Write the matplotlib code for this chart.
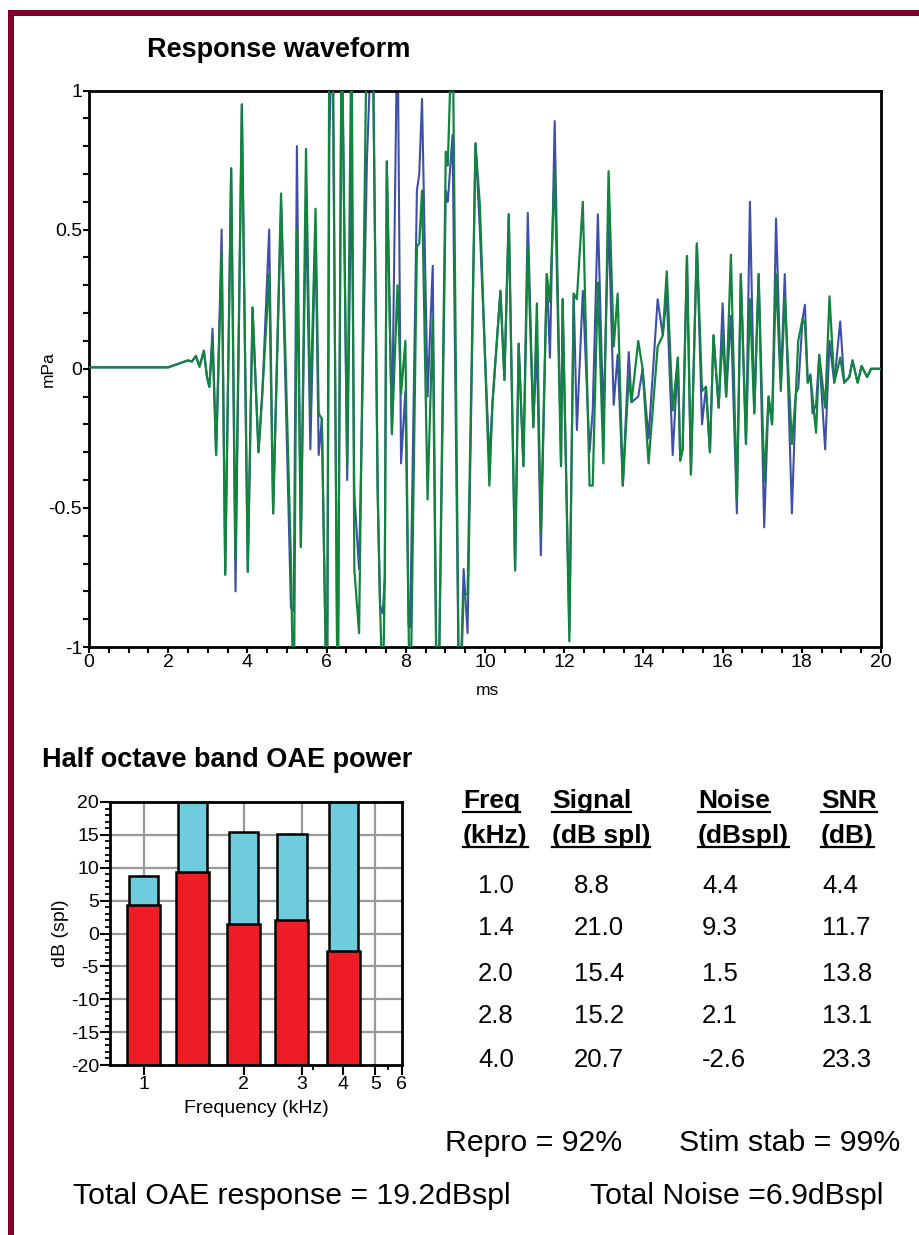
import matplotlib
matplotlib.use("Agg")
import matplotlib.pyplot as plt
from matplotlib.patches import Rectangle
from matplotlib.lines import Line2D
from matplotlib.ticker import MultipleLocator, FixedLocator, NullFormatter

plt.rcParams['font.family'] = ['Liberation Sans', 'DejaVu Sans']
plt.rcParams['axes.unicode_minus'] = False

# ---------------- data ----------------
t_ms = [0.00, 2.00, 2.30, 2.50, 2.60, 2.70, 2.79, 2.90, 2.98, 3.04,
        3.12, 3.21, 3.35, 3.44, 3.59, 3.70, 3.86, 4.01, 4.13, 4.28,
        4.38, 4.55, 4.65, 4.85, 5.10, 5.17, 5.25, 5.35, 5.48, 5.59,
        5.72, 5.80, 5.88, 6.01, 6.07, 6.15, 6.28, 6.38, 6.52, 6.63,
        6.70, 6.82, 6.88, 7.02, 7.16, 7.29, 7.35, 7.42, 7.47, 7.52,
        7.65, 7.79, 7.88, 7.99, 8.07, 8.11, 8.28, 8.34, 8.41, 8.55,
        8.68, 8.80, 9.01, 9.06, 9.18, 9.35, 9.46, 9.56, 9.76, 9.87,
        10.11, 10.19, 10.39, 10.49, 10.60, 10.76, 10.85, 10.97, 11.08, 11.22,
        11.31, 11.41, 11.56, 11.64, 11.76, 11.92, 11.96, 12.13, 12.24, 12.32,
        12.47, 12.64, 12.72, 12.85, 12.99, 13.12, 13.25, 13.35, 13.48, 13.63,
        13.70, 13.87, 13.98, 14.13, 14.36, 14.49, 14.59, 14.74, 14.87, 14.93,
        14.99, 15.10, 15.20, 15.35, 15.48, 15.58, 15.68, 15.77, 15.90, 16.00,
        16.09, 16.21, 16.36, 16.46, 16.59, 16.69, 16.80, 16.91, 17.05, 17.16,
        17.25, 17.35, 17.47, 17.57, 17.75, 17.85, 17.91, 18.02, 18.08, 18.15,
        18.22, 18.27, 18.36, 18.44, 18.59, 18.70, 18.82, 18.97, 19.07, 19.20,
        19.28, 19.41, 19.51, 19.65, 19.75, 20.00]

blue_mpa = [0.005, 0.005, 0.02, 0.03, 0.026, 0.046, 0.007, 0.065, -0.03, -0.065,
            0.144, -0.31, 0.50, -0.74, 0.72, -0.80, 0.95, -0.73, 0.22, -0.30,
            -0.08, 0.50, -0.52, 0.58, -0.86, -0.87, 0.80, -0.64, 0.60, -0.29,
            0.50, -0.31, -0.18, -1.3, 0.82, 1.3, -1.3, 1.3, -0.40, 0.78,
            -0.45, -0.72, -0.27, 0.76, 1.3, -0.44, -0.85, -0.88, -0.74, 0.745,
            -0.235, 1.3, -0.34, -0.08, -0.92, -0.93, 0.64, 0.70, 0.97, -0.10,
            0.37, -1.5, 0.64, 0.60, 0.84, -1.3, -0.72, -0.95, 0.81, 0.50,
            -0.33, -0.12, 0.28, -0.04, 0.555, -0.725, 0.09, -0.35, 0.56, -0.21,
            0.09, -0.67, 0.34, 0.04, 0.89, -0.35, 0.25, -0.94, 0.27, -0.22,
            0.28, -0.30, -0.15, 0.555, -0.20, 0.535, -0.13, 0.05, -0.42, 0.06,
            -0.12, -0.10, 0.0, -0.25, 0.25, 0.12, 0.27, -0.31, 0.04, -0.33,
            -0.29, 0.405, -0.38, 0.45, -0.20, -0.065, -0.30, 0.12, -0.14, 0.235,
            -0.10, 0.19, -0.52, 0.34, -0.27, 0.60, -0.16, 0.34, -0.57, -0.10,
            -0.20, 0.54, -0.05, 0.34, -0.52, -0.09, -0.07, 0.18, 0.23, -0.05,
            -0.02, -0.16, -0.13, 0.05, -0.29, 0.10, -0.05, 0.17, -0.05, -0.03,
            0.03, -0.05, 0.01, -0.03, 0.0, 0.0]

green_mpa = [0.005, 0.005, 0.02, 0.03, 0.026, 0.046, 0.007, 0.065, -0.03, -0.065,
             0.10, -0.31, 0.42, -0.74, 0.72, -0.68, 0.95, -0.73, 0.22, -0.30,
             -0.08, 0.34, -0.52, 0.63, -0.69, -1.3, 0.50, -0.64, 0.79, -0.16,
             0.575, -0.16, -0.18, -1.3, 1.3, 1.3, -1.3, 1.3, -0.35, 1.3,
             -0.72, -0.95, -0.27, 1.3, 1.3, -0.45, -0.85, -1.2, -0.74, 0.745,
             -0.235, 0.3, -0.09, 0.10, -0.92, -1.3, 0.44, 0.45, 0.64, -0.47,
             0.18, -1.5, 0.78, 0.73, 1.3, -1.3, -0.81, -0.81, 0.81, 0.59,
             -0.42, -0.12, 0.28, -0.04, 0.555, -0.725, 0.09, -0.35, 0.44, -0.21,
             0.235, -0.59, 0.34, 0.24, 0.71, -0.35, 0.25, -0.98, 0.27, 0.25,
             0.60, -0.42, -0.42, 0.31, -0.34, 0.71, 0.08, 0.27, -0.42, -0.03,
             -0.12, 0.10, 0.0, -0.34, 0.08, 0.12, 0.35, -0.15, 0.04, -0.33,
             -0.29, 0.405, -0.38, 0.45, -0.08, -0.065, -0.30, 0.12, -0.14, 0.12,
             -0.10, 0.41, -0.47, 0.34, -0.27, 0.25, -0.16, 0.34, -0.405, -0.10,
             -0.20, 0.34, -0.08, 0.255, -0.27, -0.09, 0.10, 0.18, 0.16, -0.05,
             -0.03, -0.10, -0.23, 0.05, -0.14, 0.26, -0.05, 0.04, -0.05, -0.03,
             0.03, -0.05, 0.01, -0.03, 0.0, 0.0]

band_khz = [1.0, 1.4, 2.0, 2.8, 4.0]
signal_db = [8.8, 21.0, 15.4, 15.2, 20.7]
noise_db = [4.4, 9.3, 1.5, 2.1, -2.6]
snr_db = [4.4, 11.7, 13.8, 13.1, 23.3]

repro_pct = 92
stim_stab_pct = 99
total_oae_db = 19.2
total_noise_db = 6.9

# ---------------- figure ----------------
W, H = 920, 1235
fig = plt.figure(figsize=(W / 100, H / 100), dpi=100)
fig.patch.set_facecolor('white')


def fx(x):
    return x / W


def fy(y):
    return 1 - y / H


maroon = '#83002B'
fig.patches.append(Rectangle((fx(8), 0), fx(6), fy(10), transform=fig.transFigure,
                             facecolor=maroon, edgecolor='none', zorder=0))
fig.patches.append(Rectangle((fx(8), fy(16)), 1 - fx(8), 6 / H, transform=fig.transFigure,
                             facecolor=maroon, edgecolor='none', zorder=0))

# ---------------- waveform ----------------
ax1 = fig.add_axes([fx(89), fy(647), fx(881) - fx(89), (647 - 90.5) / H])
ax1.plot(t_ms, blue_mpa, color='#3D4FA8', lw=1.5, zorder=2)
ax1.plot(t_ms, green_mpa, color='#12843F', lw=1.6, zorder=3)
ax1.set_xlim(0, 20)
ax1.set_ylim(-1, 1)
ax1.set_xticks(range(0, 21, 2))
ax1.xaxis.set_minor_locator(MultipleLocator(0.5))
ax1.set_yticks([-1, -0.5, 0, 0.5, 1])
ax1.set_yticklabels(['-1', '-0.5', '0', '0.5', '1'])
ax1.yaxis.set_minor_locator(MultipleLocator(0.1))
ax1.tick_params(axis='both', which='major', direction='out', length=4, width=1.5,
                labelsize=14, pad=1)
ax1.tick_params(axis='both', which='minor', direction='out', length=4, width=1.5)
for s in ax1.spines.values():
    s.set_linewidth(2)
ax1.set_xlabel('ms', fontsize=12.5)
ax1.set_ylabel('mPa', fontsize=12.5)
ax1.xaxis.set_label_coords((487 - 89) / 792, -(683 - 647) / 556.5)
ax1.yaxis.set_label_coords((56 - 89) / 792, 0.5)
fig.text(fx(147), fy(50), 'Response waveform', fontsize=19.5, fontweight='bold',
         ha='left', va='center')

# ---------------- band power bar chart ----------------
ax2 = fig.add_axes([fx(110), fy(1065), fx(402) - fx(110), (1065 - 802) / H])
ax2.set_xscale('log')
ax2.set_xlim(0.79, 6.02)
ax2.set_ylim(-20, 20)
for xv in [1, 2, 3, 4, 5]:
    ax2.axvline(xv, color='#999999', lw=1.6, zorder=0)
for yv in range(-15, 20, 5):
    ax2.axhline(yv, color='#999999', lw=1.6, zorder=0)

for f, s, n in zip(band_khz, signal_db, noise_db):
    ls, rs = f * 10 ** -0.044, f * 10 ** 0.044
    ax2.bar(ls, s + 20, width=rs - ls, bottom=-20, align='edge',
            color='#6ECCDC', edgecolor='black', lw=1.8, zorder=2)
    ln, rn = f * 10 ** -0.05, f * 10 ** 0.05
    ax2.bar(ln, n + 20, width=rn - ln, bottom=-20, align='edge',
            color='#EE1D25', edgecolor='black', lw=1.8, zorder=3)

ax2.xaxis.set_major_locator(FixedLocator([1, 2, 3, 4, 5, 6]))
ax2.set_xticklabels(['1', '2', '3', '4', '5', '6'])
ax2.xaxis.set_minor_locator(FixedLocator([3.25, 5.45]))
ax2.xaxis.set_minor_formatter(NullFormatter())
ax2.set_yticks(range(-20, 21, 5))
ax2.yaxis.set_minor_locator(MultipleLocator(1))
ax2.tick_params(axis='both', which='major', direction='out', length=7, width=1.5,
                labelsize=14, pad=1)
ax2.tick_params(axis='both', which='minor', direction='out', length=3.5, width=1.3)
for s in ax2.spines.values():
    s.set_linewidth(2)
    s.set_zorder(5)
ax2.set_xlabel('Frequency (kHz)', fontsize=14)
ax2.set_ylabel('dB (spl)', fontsize=14)
ax2.xaxis.set_label_coords((256 - 110) / 292, -(1100 - 1065) / 263)
ax2.yaxis.set_label_coords((69 - 110) / 292, 0.5)
fig.text(fx(42), fy(760), 'Half octave band OAE power', fontsize=19.5,
         fontweight='bold', ha='left', va='center')

# ---------------- table ----------------
headers = [(463, 'Freq', '(kHz)'), (552, 'Signal', '(dB spl)'),
           (698, 'Noise', '(dBspl)'), (821, 'SNR', '(dB)')]
hdr_texts = []
for x, h1, h2 in headers:
    t1 = fig.text(fx(x), fy(808), h1, fontsize=19, fontweight='bold',
                  ha='left', va='baseline')
    t2 = fig.text(fx(x), fy(843), h2, fontsize=19, fontweight='bold',
                  ha='left', va='baseline')
    hdr_texts.append((t1, 811.5))
    hdr_texts.append((t2, 846.5))

row_base = [893, 935, 981, 1023, 1067]
for i in range(len(band_khz)):
    yb = row_base[i]
    fig.text(fx(478), fy(yb), f'{band_khz[i]:.1f}', fontsize=18.5, ha='left', va='baseline')
    fig.text(fx(574), fy(yb), f'{signal_db[i]:.1f}', fontsize=18.5, ha='left', va='baseline')
    fig.text(fx(702), fy(yb), f'{noise_db[i]:.1f}', fontsize=18.5, ha='left', va='baseline')
    fig.text(fx(822), fy(yb), f'{snr_db[i]:.1f}', fontsize=18.5, ha='left', va='baseline')

bfs = 21.8
fig.text(fx(445), fy(1151), f'Repro = {repro_pct}%', fontsize=bfs, ha='left', va='baseline')
fig.text(fx(679), fy(1151), f'Stim stab = {stim_stab_pct}%', fontsize=bfs, ha='left', va='baseline')
fig.text(fx(73), fy(1204), f'Total OAE response = {total_oae_db:.1f}dBspl', fontsize=bfs,
         ha='left', va='baseline')
fig.text(fx(590), fy(1204), f'Total Noise ={total_noise_db:.1f}dBspl', fontsize=bfs,
         ha='left', va='baseline')

# underlines for table headers
fig.canvas.draw()
r = fig.canvas.get_renderer()
for t, yline in hdr_texts:
    bb = t.get_window_extent(renderer=r)
    x0, x1 = bb.x0 / W, bb.x1 / W
    fig.lines.append(Line2D([x0, x1], [fy(yline), fy(yline)], transform=fig.transFigure,
                            color='black', lw=1.6))

fig.savefig('out.png', dpi=100, facecolor='white')
